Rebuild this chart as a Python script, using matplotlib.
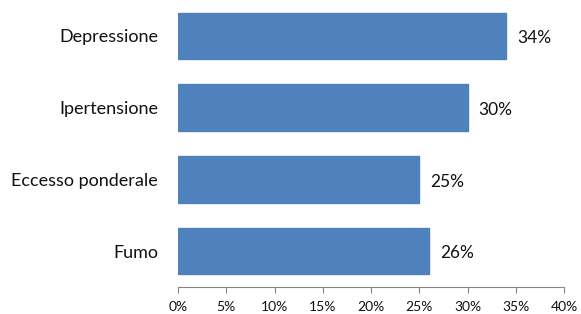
import matplotlib
matplotlib.use("Agg")
import matplotlib.pyplot as plt
from matplotlib.ticker import FuncFormatter

categories = ["Depressione", "Ipertensione", "Eccesso ponderale", "Fumo"]
values = [34, 30, 25, 26]
xticks = [0, 5, 10, 15, 20, 25, 30, 35, 40]

plt.rcParams['font.family'] = ['Lato', 'DejaVu Sans']

fig = plt.figure(figsize=(5.81, 3.14), dpi=100)
ax = fig.add_axes([178/581, 1 - 287/314, (564 - 178)/581, 287/314])

ypos = list(range(len(categories)))
ax.barh(ypos, values, height=0.645, color="#4F81BD", edgecolor="#4F81BD")
ax.set_ylim(len(categories) - 0.5, -0.5)
ax.set_xlim(0, 40)
ax.set_yticks(ypos)
ax.set_yticklabels(categories, fontsize=13, color="#111111")
ax.set_xticks(xticks)
ax.xaxis.set_major_formatter(FuncFormatter(lambda v, p: f"{int(v)}%"))
ax.tick_params(axis='x', labelsize=10, length=4, color="#868686", pad=6,
               labelcolor="#111111")
ax.tick_params(axis='y', length=0, pad=14.4)

for s in ["top", "right", "left"]:
    ax.spines[s].set_visible(False)
ax.spines["bottom"].set_color("#868686")

for y, v in zip(ypos, values):
    ax.text(v + 1.15, y + 0.03, f"{v}%", va="center", ha="left", fontsize=12.5,
            color="#111111")

fig.savefig("out.png", dpi=100)
